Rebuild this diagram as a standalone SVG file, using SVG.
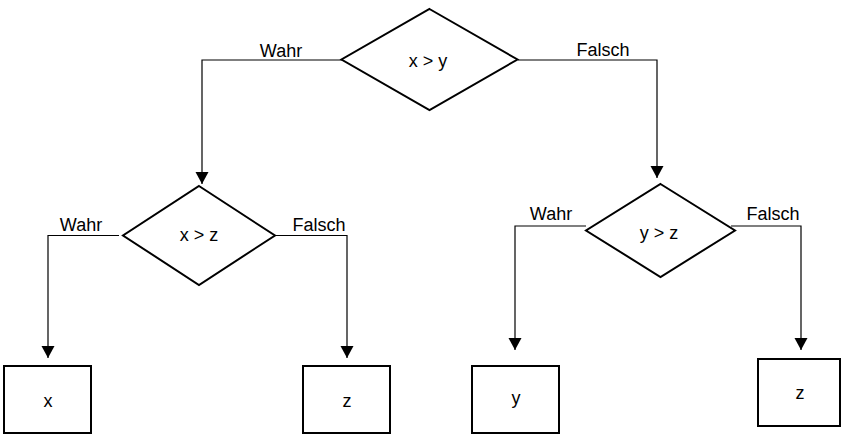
<svg xmlns="http://www.w3.org/2000/svg" width="851" height="435" viewBox="0 0 851 435">
<style>
.shape{fill:#fff;stroke:#000;stroke-width:2}
.conn{fill:none;stroke:#000;stroke-width:1.2}
text{font-family:"Liberation Sans",Arial,sans-serif;font-size:18px;fill:#000}
.c{text-anchor:middle}
</style>
<defs>
<marker id="arr" markerUnits="userSpaceOnUse" markerWidth="14" markerHeight="14" viewBox="0 0 14 14" refX="12" refY="7" orient="auto">
<path d="M0,0.5 L12,7 L0,13.5 Z" fill="#000"/>
</marker>
</defs>
<g id="connectors">
<path class="conn" d="M342,60 H202 V184" marker-end="url(#arr)"/>
<path class="conn" d="M518,60 H657 V178" marker-end="url(#arr)"/>
<path class="conn" d="M119,235.5 H48 V358" marker-end="url(#arr)"/>
<path class="conn" d="M275,235.5 H347 V358" marker-end="url(#arr)"/>
<path class="conn" d="M586,226 H515 V350" marker-end="url(#arr)"/>
<path class="conn" d="M731,226 H801 V350" marker-end="url(#arr)"/>
<text x="281" y="57" class="c">Wahr</text>
<text x="603" y="56" class="c">Falsch</text>
<text x="81" y="231" class="c">Wahr</text>
<text x="319" y="231" class="c">Falsch</text>
<text x="551" y="220" class="c">Wahr</text>
<text x="773" y="220" class="c">Falsch</text>
</g>
<g id="d1">
<polygon class="shape" points="429.5,9 517.5,59.5 429.5,110 341.5,59.5"/>
<text x="428" y="67" class="c">x &gt; y</text>
</g>
<g id="d2">
<polygon class="shape" points="199,186 275,235.5 199,285 123,235.5"/>
<text x="199" y="241" class="c">x &gt; z</text>
</g>
<g id="d3">
<polygon class="shape" points="660.5,184 735,230.5 660.5,277 586,230.5"/>
<text x="659" y="239" class="c">y &gt; z</text>
</g>
<g id="bx">
<rect class="shape" x="4" y="366" width="87" height="67"/>
<text x="48" y="407" class="c">x</text>
</g>
<g id="bz1">
<rect class="shape" x="303" y="366" width="87" height="67"/>
<text x="347" y="407" class="c">z</text>
</g>
<g id="by">
<rect class="shape" x="472" y="366" width="87" height="67"/>
<text x="516" y="404" class="c">y</text>
</g>
<g id="bz2">
<rect class="shape" x="758" y="359" width="82" height="67"/>
<text x="800" y="399" class="c">z</text>
</g>
</svg>
